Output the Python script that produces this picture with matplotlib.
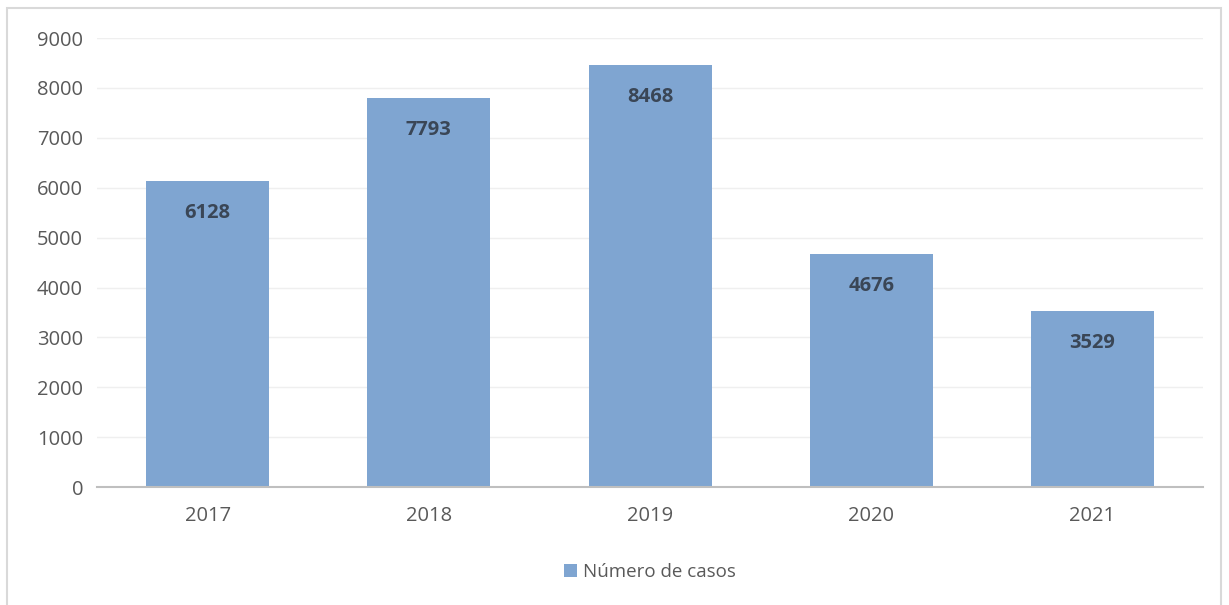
import matplotlib.pyplot as plt
from matplotlib.patches import Rectangle

# datos
anios = ["2017", "2018", "2019", "2020", "2021"]
casos = [6128, 7793, 8468, 4676, 3529]
marcas_y = [0, 1000, 2000, 3000, 4000, 5000, 6000, 7000, 8000, 9000]

plt.rcParams['font.family'] = ['Open Sans', 'DejaVu Sans']

fig = plt.figure(figsize=(12.29, 6.05), dpi=100)
ax = fig.add_axes([0.0789, 0.195, 0.9, 0.742])

x = range(len(anios))
barras = ax.bar(x, casos, width=0.556, color='#7FA5D1', label='Número de casos', zorder=2)

# etiquetas dentro de las barras
for xi, v in zip(x, casos):
    ax.annotate(str(v), (xi, v), xytext=(0, -23), textcoords='offset points',
                ha='center', va='center', fontsize=14.5, fontweight='bold', color='#3A4656')

ax.set_xlim(-0.5, 4.5)
ax.set_ylim(0, 9000)
ax.set_yticks(marcas_y)
ax.set_xticks(list(x))
ax.set_xticklabels(anios)
ax.tick_params(axis='both', length=0, labelsize=14.5, colors='#595959')
ax.tick_params(axis='x', pad=14)
ax.tick_params(axis='y', pad=10)
ax.grid(axis='y', color='#EFEFEF', linewidth=1, zorder=0)
for s in ['top', 'right', 'left']:
    ax.spines[s].set_visible(False)
ax.spines['bottom'].set_color('#BFBFBF')
ax.spines['bottom'].set_linewidth(1.5)

ax.legend(loc='center', bbox_to_anchor=(0.5, -0.19), frameon=False, fontsize=13.5,
          handlelength=0.7, handleheight=0.7, handletextpad=0.3, labelcolor='#595959')

# marco exterior
fig.patches.append(Rectangle((7 / 1229, -0.01), 1214 / 1229, 1 - 8 / 605 + 0.01,
                             transform=fig.transFigure, fill=False,
                             edgecolor='#D9D9D9', linewidth=1.5))

fig.savefig('out.png', dpi=100)
